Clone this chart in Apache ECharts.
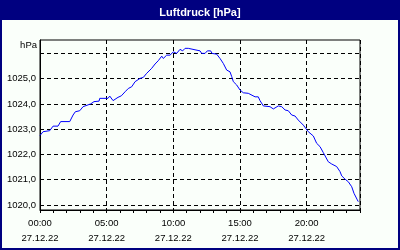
<!DOCTYPE html>
<html><head><meta charset="utf-8">
<script src="https://cdn.jsdelivr.net/npm/echarts@6/dist/echarts.min.js"></script>
<style>html,body{margin:0;padding:0;background:#fafffa}#c{width:400px;height:250px}</style>
</head><body><div id="c"></div>
<script>
const chartTitle = 'Luftdruck [hPa]';
const unitLabel = 'hPa';
const dateLabel = '27.12.22';
const xLabelHours = [0, 5, 10, 15, 20];
const yGridValues = [1020, 1021, 1022, 1023, 1024, 1025, 1026];
const yLabelValues = [1020, 1021, 1022, 1023, 1024, 1025];
const hours = [0,0.23,0.35,0.73,0.98,1.35,1.55,2.23,2.48,2.65,
  2.98,3.23,3.8,4.05,4.43,4.48,5.1,5.23,5.48,5.85,
  6.1,6.38,6.62,6.88,7.13,7.5,7.75,8.0,8.38,8.63,
  8.87,9.13,9.25,9.5,9.75,10.0,10.25,10.5,10.7,10.88,
  11.12,11.25,12.0,12.13,12.38,12.55,12.8,12.9,13.25,13.5,
  13.75,14.0,14.25,14.38,14.5,14.75,15.0,15.25,15.62,15.75,
  16.13,16.37,16.5,16.75,17.25,17.5,17.63,17.87,18.13,18.38,
  18.62,18.88,19.13,19.37,19.75,20.12,20.5,20.75,21.0,21.25,
  21.62,21.88,22.25,22.5,22.63,22.88,23.12,23.38,23.55,23.8,
  23.87];
const pressure = [1022.75,1022.9,1022.94,1022.94,1023.12,1023.12,1023.3,1023.3,1023.56,1023.69,
  1023.73,1023.89,1024.0,1024.09,1024.11,1024.22,1024.22,1024.31,1024.13,1024.26,
  1024.32,1024.48,1024.61,1024.68,1024.88,1025.01,1025.05,1025.21,1025.41,1025.58,
  1025.71,1025.89,1025.8,1025.93,1025.93,1026.06,1026.0,1026.16,1026.1,1026.2,
  1026.2,1026.13,1026.1,1026.0,1026.0,1026.1,1026.1,1026.0,1025.97,1025.8,
  1025.6,1025.34,1025.27,1025.08,1024.88,1024.75,1024.55,1024.44,1024.42,1024.35,
  1024.28,1024.28,1024.13,1023.92,1023.89,1023.8,1023.8,1023.92,1023.89,1023.76,
  1023.73,1023.56,1023.52,1023.36,1023.16,1022.9,1022.73,1022.44,1022.31,1022.07,
  1021.71,1021.62,1021.52,1021.32,1021.15,1021.02,1020.92,1020.72,1020.46,1020.2,
  1020.13];

const font = '"Liberation Sans", Arial, sans-serif';
const chart = echarts.init(document.getElementById('c'), null, {renderer: 'canvas'});
const dashed = {color: '#000', width: 1, type: [4, 3]};
chart.setOption({
  animation: false,
  backgroundColor: '#000080',
  graphic: [
    {type: 'rect', z: -10, shape: {x: 2, y: 20, width: 396, height: 228}, style: {fill: '#fafffa'}},
    {type: 'text', x: 37, y: 45, style: {text: unitLabel, fill: '#000', font: '9.5px ' + font,
      textAlign: 'right', textVerticalAlign: 'middle', align: 'right', verticalAlign: 'middle'}}
  ],
  title: {text: chartTitle, left: 'center', top: 2,
    textStyle: {color: '#fff', fontWeight: 'bold', fontSize: 11, fontFamily: font}},
  grid: {left: 40, right: 40, top: 40, bottom: 40, show: true, borderColor: '#000', borderWidth: 1, backgroundColor: 'transparent'},
  xAxis: [
    {type: 'value', min: 0, max: 24, interval: 5, position: 'bottom',
      axisLine: {show: true, lineStyle: {color: '#000', width: 1}},
      axisTick: {show: false},
      splitLine: {show: true, lineStyle: dashed},
      axisLabel: {customValues: xLabelHours, color: '#000', fontSize: 9.5, fontFamily: font, margin: 6, lineHeight: 15,
        formatter: v => String(v).padStart(2, '0') + ':00\n' + dateLabel}},
    {type: 'value', min: 0, max: 24, interval: 1, position: 'bottom',
      axisLine: {show: false},
      axisTick: {show: true, length: 3, lineStyle: {color: '#000'}},
      splitLine: {show: false}, axisLabel: {show: false}}
  ],
  yAxis: {type: 'value', min: 1019.8, max: 1026.53,
    axisLine: {show: true, lineStyle: {color: '#000', width: 1}},
    axisTick: {show: false, customValues: yGridValues},
    splitLine: {show: true, lineStyle: dashed},
    axisLabel: {customValues: yLabelValues, color: '#000', fontSize: 9.5, fontFamily: font, margin: 4,
      formatter: v => v.toFixed(1).replace('.', ',')}},
  series: [{type: 'line', xAxisIndex: 0, data: hours.map((h, i) => [h, pressure[i]]),
    showSymbol: false, lineStyle: {color: '#0000ff', width: 1}, itemStyle: {color: '#0000ff'}}]
});
</script></body></html>
